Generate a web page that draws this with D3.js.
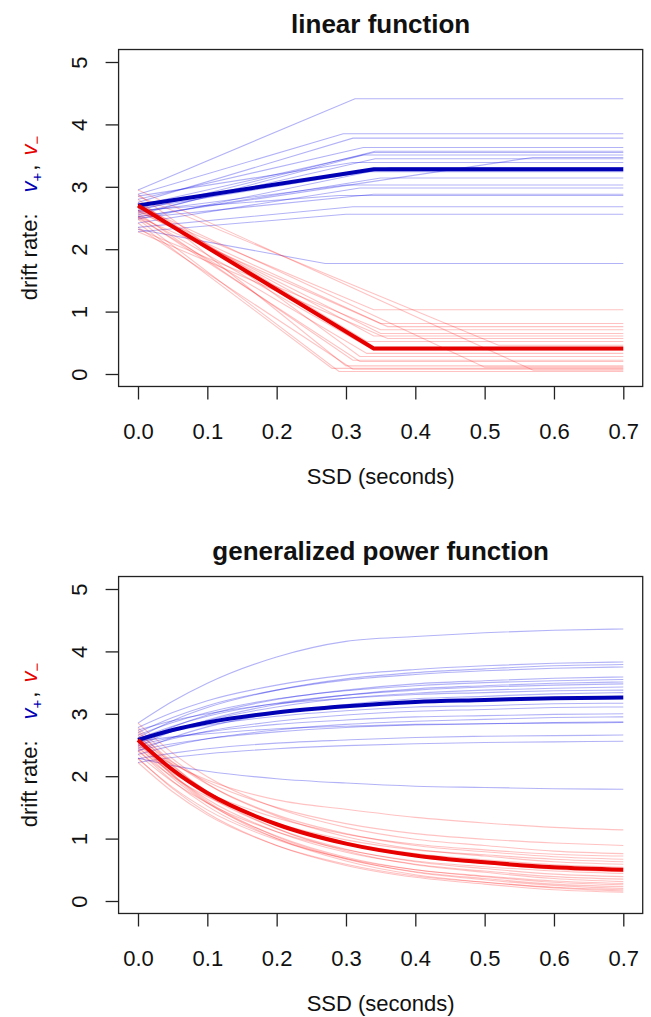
<!DOCTYPE html>
<html>
<head>
<meta charset="utf-8">
<script src="https://cdn.jsdelivr.net/npm/d3@7"></script>
<style>
  body { margin: 0; background: #fff; }
  text { font-family: "Liberation Sans", Arial, Helvetica, sans-serif; fill: #111; }
</style>
</head>
<body>
<div id="chart"></div>
<script>
const ssdTicks = [0, 0.1, 0.2, 0.3, 0.4, 0.5, 0.6, 0.7];
const driftTicks = [0, 1, 2, 3, 4, 5];

// linear function panel: one thin line per subject, flat after its break point
const linV0 = [2.95, 2.88, 2.75, 2.80, 2.62, 2.70, 2.55, 2.52, 2.58, 2.85,
               2.48, 2.65, 2.52, 2.60, 2.42, 2.50, 2.62, 2.35, 2.28, 2.32];
const linPlusBreak = [0.313, 0.296, 0.31, 0.325, 0.342, 0.34, 0.325, 0.569, 0.342, 0.31,
                      0.364, 0.33, 0.35, 0.30, 0.32, 0.34, 0.29, 0.31, 0.30, 0.27];
const linPlusEnd = [4.41, 3.85, 3.78, 3.63, 3.57, 3.55, 3.51, 3.47, 3.45, 3.39,
                    3.31, 3.24, 3.14, 3.03, 2.98, 2.88, 2.86, 2.68, 2.56, 1.77];
const linMinusBreak = [0.57, 0.32, 0.33, 0.30, 0.35, 0.50, 0.34, 0.36, 0.31, 0.52,
                       0.29, 0.34, 0.32, 0.35, 0.28, 0.33, 0.34, 0.31, 0.36, 0.35];
const linMinusEnd = [0.06, 0.28, 0.52, 0.13, 0.65, 0.11, 0.38, 0.76, 0.22, 0.46,
                     0.04, 0.61, 0.20, 0.81, 0.09, 0.33, 1.03, 0.075, 0.57, 0.71];
const linPlusMean = [[0, 2.70], [0.34, 3.28], [0.70, 3.28]];
const linMinusMean = [[0, 2.70], [0.34, 0.41], [0.70, 0.41]];

// generalized power function panel: values read at these SSDs
const powSSD = [0, 0.05, 0.1, 0.2, 0.3, 0.4, 0.5, 0.6, 0.7];
const powPlus = [
  [2.85, 3.20, 3.49, 3.91, 4.16, 4.24, 4.30, 4.34, 4.36],
  [2.78, 3.02, 3.21, 3.46, 3.62, 3.71, 3.77, 3.81, 3.83],
  [2.62, 2.89, 3.10, 3.38, 3.56, 3.66, 3.72, 3.77, 3.79],
  [2.70, 2.94, 3.13, 3.38, 3.54, 3.63, 3.69, 3.73, 3.75],
  [2.55, 2.79, 2.98, 3.23, 3.38, 3.48, 3.53, 3.57, 3.59],
  [2.66, 2.86, 3.02, 3.24, 3.37, 3.45, 3.50, 3.53, 3.55],
  [2.48, 2.72, 2.90, 3.15, 3.30, 3.40, 3.45, 3.49, 3.51],
  [2.60, 2.80, 2.96, 3.17, 3.30, 3.38, 3.43, 3.46, 3.48],
  [2.52, 2.73, 2.89, 3.11, 3.25, 3.33, 3.38, 3.41, 3.43],
  [2.74, 2.89, 3.00, 3.16, 3.25, 3.31, 3.34, 3.37, 3.38],
  [2.40, 2.62, 2.79, 3.01, 3.15, 3.24, 3.28, 3.32, 3.34],
  [2.58, 2.72, 2.82, 2.96, 3.05, 3.11, 3.13, 3.16, 3.17],
  [2.45, 2.60, 2.72, 2.88, 2.98, 3.04, 3.07, 3.10, 3.11],
  [2.50, 2.62, 2.71, 2.83, 2.90, 2.95, 2.97, 2.99, 3.00],
  [2.35, 2.49, 2.60, 2.74, 2.83, 2.88, 2.91, 2.94, 2.95],
  [2.42, 2.52, 2.60, 2.71, 2.78, 2.82, 2.84, 2.86, 2.87],
  [2.56, 2.63, 2.68, 2.76, 2.80, 2.83, 2.84, 2.85, 2.86],
  [2.28, 2.37, 2.44, 2.53, 2.58, 2.62, 2.64, 2.65, 2.66],
  [2.22, 2.30, 2.36, 2.44, 2.49, 2.52, 2.54, 2.55, 2.56],
  [2.29, 2.17, 2.08, 1.96, 1.89, 1.84, 1.82, 1.80, 1.79]
];
const powMinus = [
  [2.50, 2.19, 1.94, 1.62, 1.47, 1.34, 1.25, 1.18, 1.14],
  [2.62, 2.22, 1.91, 1.50, 1.24, 1.08, 0.99, 0.93, 0.89],
  [2.85, 2.37, 1.99, 1.49, 1.18, 0.99, 0.89, 0.80, 0.76],
  [2.45, 2.05, 1.74, 1.33, 1.07, 0.91, 0.82, 0.75, 0.72],
  [2.70, 2.23, 1.87, 1.38, 1.08, 0.89, 0.79, 0.71, 0.67],
  [2.40, 1.99, 1.67, 1.25, 0.98, 0.82, 0.74, 0.67, 0.63],
  [2.78, 2.28, 1.88, 1.36, 1.03, 0.83, 0.72, 0.63, 0.59],
  [2.55, 2.09, 1.73, 1.24, 0.94, 0.76, 0.66, 0.58, 0.54],
  [2.66, 2.16, 1.76, 1.24, 0.91, 0.71, 0.60, 0.51, 0.47],
  [2.35, 1.91, 1.57, 1.11, 0.82, 0.64, 0.55, 0.48, 0.44],
  [2.60, 2.09, 1.69, 1.16, 0.83, 0.63, 0.52, 0.43, 0.39],
  [2.52, 2.02, 1.63, 1.11, 0.78, 0.59, 0.48, 0.39, 0.35],
  [2.74, 2.18, 1.74, 1.16, 0.80, 0.58, 0.46, 0.36, 0.31],
  [2.28, 1.82, 1.46, 0.98, 0.68, 0.50, 0.40, 0.32, 0.28],
  [2.48, 1.97, 1.57, 1.04, 0.70, 0.50, 0.39, 0.30, 0.26],
  [2.42, 1.92, 1.52, 1.00, 0.67, 0.47, 0.36, 0.27, 0.23],
  [2.58, 2.03, 1.60, 1.03, 0.68, 0.46, 0.34, 0.25, 0.20],
  [2.22, 1.75, 1.38, 0.89, 0.59, 0.40, 0.30, 0.22, 0.18],
  [2.56, 2.01, 1.58, 1.00, 0.64, 0.42, 0.30, 0.21, 0.16],
  [2.29, 1.80, 1.41, 0.89, 0.57, 0.38, 0.27, 0.18, 0.14]
];
const powPlusMean = [2.58, 2.74, 2.86, 3.02, 3.12, 3.19, 3.22, 3.25, 3.26];
const powMinusMean = [2.58, 2.10, 1.73, 1.23, 0.92, 0.73, 0.62, 0.54, 0.50];

const width = 651;
const height = 1017;
const blueThin = "rgba(0, 0, 230, 0.3)";
const redThin = "rgba(255, 0, 0, 0.24)";
const blueThick = "#0000b4";
const redThick = "#e60000";
const labelSize = 22;

const svg = d3
  .select("#chart")
  .append("svg")
  .attr("width", width)
  .attr("height", height);

const x = d3.scaleLinear().domain([0, 0.7]).range([138, 623.3]);
const y = d3.scaleLinear().domain([0, 5]).range([374, 62]);
const boxL = x(-0.028), boxR = x(0.728), boxT = y(5.2), boxB = y(-0.2);

function drawPanel(offsetY, title, plusLines, minusLines, plusMean, minusMean, curve) {
  const g = svg.append("g").attr("transform", `translate(0,${offsetY})`);

  const line = d3
    .line()
    .x((d) => x(d[0]))
    .y((d) => y(d[1]))
    .curve(curve);

  g.selectAll(".plus-thin")
    .data(plusLines)
    .enter()
    .append("path")
    .attr("d", line)
    .attr("fill", "none")
    .attr("stroke", blueThin)
    .attr("stroke-width", 1.1);

  g.selectAll(".minus-thin")
    .data(minusLines)
    .enter()
    .append("path")
    .attr("d", line)
    .attr("fill", "none")
    .attr("stroke", redThin)
    .attr("stroke-width", 1.1);

  g.append("path")
    .attr("d", line(plusMean))
    .attr("fill", "none")
    .attr("stroke", blueThick)
    .attr("stroke-width", 4);
  g.append("path")
    .attr("d", line(minusMean))
    .attr("fill", "none")
    .attr("stroke", redThick)
    .attr("stroke-width", 4);

  // box
  g.append("rect")
    .attr("x", boxL)
    .attr("y", boxT)
    .attr("width", boxR - boxL)
    .attr("height", boxB - boxT)
    .attr("fill", "none")
    .attr("stroke", "#222")
    .attr("stroke-width", 1.3);

  // x axis
  const xAxis = d3
    .axisBottom(x)
    .tickValues(ssdTicks)
    .tickSize(13)
    .tickPadding(24)
    .tickFormat(d3.format(".1f"));
  const xg = g.append("g").attr("transform", `translate(0,${boxB})`).call(xAxis);
  xg.select(".domain").remove();
  xg.selectAll("line").attr("stroke", "#222").attr("stroke-width", 1.3);
  xg.selectAll("text")
    .attr("font-size", labelSize)
    .attr("font-family", "Liberation Sans, Arial, sans-serif")
    .attr("fill", "#111");

  // y axis
  const yAxis = d3.axisLeft(y).tickValues(driftTicks).tickSize(13).tickFormat(d3.format("d"));
  const yg = g.append("g").attr("transform", `translate(${boxL},0)`).call(yAxis);
  yg.select(".domain").remove();
  yg.selectAll("line").attr("stroke", "#222").attr("stroke-width", 1.3);
  yg.selectAll("text")
    .attr("x", null)
    .attr("dy", null)
    .attr("transform", "translate(-32,0) rotate(-90)")
    .attr("text-anchor", "middle")
    .attr("font-size", labelSize)
    .attr("font-family", "Liberation Sans, Arial, sans-serif")
    .attr("fill", "#111");

  // title
  g.append("text")
    .attr("x", (boxL + boxR) / 2)
    .attr("y", 33)
    .attr("text-anchor", "middle")
    .attr("font-size", 26)
    .attr("font-weight", "bold")
    .text(title);

  // x label
  g.append("text")
    .attr("x", (boxL + boxR) / 2)
    .attr("y", 484)
    .attr("text-anchor", "middle")
    .attr("font-size", labelSize)
    .text("SSD (seconds)");

  // y label with coloured v+ , v-
  const yl = g
    .append("text")
    .attr("transform", `translate(37,${(boxT + boxB) / 2}) rotate(-90)`)
    .attr("text-anchor", "middle")
    .attr("font-size", labelSize);
  yl.append("tspan").text("drift rate:");
  yl.append("tspan").attr("dx", 21).attr("fill", blueThick).attr("font-style", "italic").text("v");
  yl.append("tspan").attr("dy", 5).attr("font-size", 15).attr("fill", blueThick).text("+");
  yl.append("tspan").attr("dy", -5).attr("dx", 2).text(",");
  yl.append("tspan").attr("dx", 9).attr("fill", redThick).attr("font-style", "italic").text("v");
  yl.append("tspan").attr("dy", 5).attr("font-size", 15).attr("fill", redThick).text("\u2212");
}

const linPlusLines = linV0.map((v0, i) => [
  [0, v0],
  [linPlusBreak[i], linPlusEnd[i]],
  [0.7, linPlusEnd[i]],
]);
const linMinusLines = linV0.map((v0, i) => [
  [0, v0],
  [linMinusBreak[i], linMinusEnd[i]],
  [0.7, linMinusEnd[i]],
]);

const toPoints = (vals) => vals.map((v, j) => [powSSD[j], v]);

drawPanel(0, "linear function", linPlusLines, linMinusLines, linPlusMean, linMinusMean, d3.curveLinear);
drawPanel(
  527,
  "generalized power function",
  powPlus.map(toPoints),
  powMinus.map(toPoints),
  toPoints(powPlusMean),
  toPoints(powMinusMean),
  d3.curveMonotoneX
);
</script>
</body>
</html>
